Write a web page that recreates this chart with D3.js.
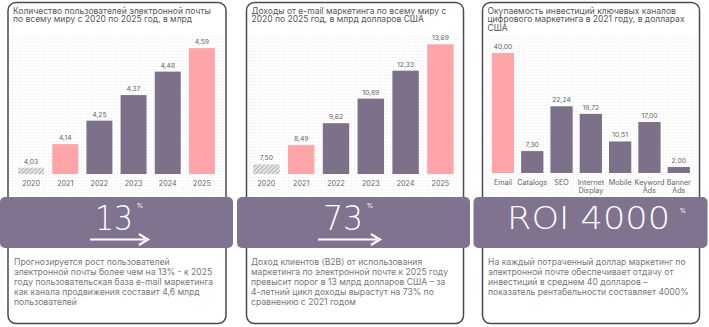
<!DOCTYPE html>
<html><head><meta charset="utf-8">
<script src="https://cdn.jsdelivr.net/npm/d3@7"></script>
<style>
html,body{margin:0;padding:0;background:#fff;}
svg{display:block;font-family:Inter,"Open Sans",sans-serif;}
</style></head>
<body><svg id="c" width="709" height="327"></svg>
<script>
// ---- data ----
const years = ["2020","2021","2022","2023","2024","2025"];
const users = [4.03, 4.14, 4.25, 4.37, 4.48, 4.59];
const revenue = [7.50, 8.49, 9.62, 10.89, 12.33, 13.69];
const yearKinds = ["hatch","pink","dark","dark","dark","pink"];
const channels = ["Email","Catalogs","SEO","Internet Display","Mobile","Keyword Ads","Banner Ads"];
const roi = [40.00, 7.30, 22.24, 19.72, 10.51, 17.00, 2.00];
const channelKinds = ["pink","dark","dark","dark","dark","dark","dark"];
const titles = [
  ["Количество пользователей электронной почты","по всему миру с 2020 по 2025 год, в млрд"],
  ["Доходы от e-mail маркетинга по всему миру с","2020 по 2025 год, в млрд долларов США"],
  ["Окупаемость инвестиций ключевых каналов","цифрового маркетинга в 2021 году, в долларах","США"]
];
const bigNumbers = ["13","73","ROI 4000"];
const descriptions = [
  ["Прогнозируется рост пользователей","электронной почты более чем на 13% - к 2025","году пользовательская база e-mail маркетинга","как канала продвижения составит 4,6 млрд","пользователей"],
  ["Доход клиентов (B2B) от использования","маркетинга по электронной почте к 2025 году","превысит порог в 13 млрд долларов США – за","4-летний цикл доходы вырастут на 73% по","сравнению с 2021 годом"],
  ["На каждый потраченный доллар маркетинг по","электронной почте обеспечивает отдачу от","инвестиций в среднем 40 долларов –","показатель рентабельности составляет 4000%"]
];

// ---- styles ----
const PINK = "#ffa5a9", DARK = "#7c7189", BAND = "#7f7390", BORDER = "#4d4759";
const fmt = v => d3.format(".2f")(v).replace(".", ",");
const svg = d3.select("#c");

const defs = svg.append("defs");
const dots = defs.append("pattern").attr("id","dots").attr("width",3).attr("height",3)
  .attr("patternUnits","userSpaceOnUse");
dots.append("rect").attr("width",1).attr("height",1).attr("fill","#ececec");
const hatch = defs.append("pattern").attr("id","hatch").attr("width",3).attr("height",3)
  .attr("patternUnits","userSpaceOnUse").attr("patternTransform","rotate(45)");
hatch.append("rect").attr("width",3).attr("height",3).attr("fill","#e4e4e4");
hatch.append("line").attr("x1",0).attr("y1",0).attr("x2",0).attr("y2",3)
  .attr("stroke","#9a9a9a").attr("stroke-width",1.3);

// cards
const cards = [{x:8,w:218},{x:246.5,w:217},{x:482.5,w:217}];
cards.forEach(c => {
  svg.append("rect").attr("x",c.x).attr("y",2.5).attr("width",c.w).attr("height",321)
    .attr("rx",8).attr("fill","#fff").attr("stroke",BORDER).attr("stroke-width",1.5);
  svg.append("rect").attr("x",c.x+1).attr("y",34).attr("width",c.w-2).attr("height",163)
    .attr("fill","url(#dots)");
});

// titles
titles.forEach((lines,i) => {
  const t = svg.append("text").attr("font-size",8.5).attr("fill","#555");
  lines.forEach((l,j) => t.append("tspan").attr("x",cards[i].x+5).attr("y",13.5+8.8*j).text(l));
});

function fillOf(k){ return k==="pink"?PINK:(k==="dark"?DARK:"url(#hatch)"); }

function barPanel(cats, vals, kinds, xr, yDomain, yRange){
  const x = d3.scaleBand().domain(cats).range(xr).paddingInner(0.24).paddingOuter(0.12);
  const y = d3.scaleLinear().domain(yDomain).range(yRange);
  const g = svg.append("g");
  g.selectAll("rect.b").data(cats).join("rect").attr("class","b")
    .attr("x",d=>x(d)).attr("width",x.bandwidth())
    .attr("y",(d,i)=>y(vals[i])).attr("height",(d,i)=>y(yDomain[0])-y(vals[i]))
    .attr("fill",(d,i)=>fillOf(kinds[i]));
  g.selectAll("text.v").data(cats).join("text").attr("class","v")
    .attr("x",d=>x(d)+x.bandwidth()/2).attr("y",(d,i)=>y(vals[i])-4)
    .attr("text-anchor","middle").attr("font-size",6.8).attr("fill","#666")
    .text((d,i)=>fmt(vals[i]));
  const ax = g.append("g").attr("transform",`translate(0,${y(yDomain[0])})`)
    .call(d3.axisBottom(x).tickSize(0).tickPadding(0));
  ax.select(".domain").remove();
  ax.selectAll(".tick text").attr("font-size",7.2).attr("fill","#666")
    .attr("font-family","Inter,'Open Sans',sans-serif").attr("dy",0)
    .each(function(d){
      const el = d3.select(this); const words = d.split(" ");
      el.text(null);
      words.forEach((w,k)=> el.append("tspan").attr("x",0).attr("y",k===0?11.5:19.5).text(w));
    });
}
barPanel(years, users, yearKinds, [14,219], [4,4.6], [174,46]);
barPanel(years, revenue, yearKinds, [249,457.8], [7,14], [174,38.3]);
barPanel(channels, roi, channelKinds, [488.3,693.4], [0,40], [173,53]);

// bands
const bands = [{x:0,w:233},{x:237,w:233},{x:473.5,w:234}];
bands.forEach(b => svg.append("rect").attr("x",b.x).attr("y",197).attr("width",b.w).attr("height",51)
  .attr("rx",5).attr("fill",BAND));

// big numbers
const bigPos = [{x:114,y:230,w:38,pct:140,py:208},{x:343,y:230,w:40,pct:370,py:208},{x:588.5,y:229,w:163,pct:683,py:213}];
bigNumbers.forEach((s,i) => {
  svg.append("text").attr("x",bigPos[i].x).attr("y",bigPos[i].y).attr("text-anchor","middle")
    .attr("font-family","'DejaVu Sans',sans-serif").attr("font-weight",200)
    .attr("font-size",i===2?32:34).attr("fill","#fff")
    .attr("textLength",bigPos[i].w).attr("lengthAdjust","spacingAndGlyphs").text(s);
  svg.append("text").attr("x",bigPos[i].pct).attr("y",bigPos[i].py).attr("text-anchor","middle")
    .attr("font-size",6.5).attr("fill","#fff").text("%");
});
// arrows
const arrows = [{x1:90,x2:148},{x1:318,x2:380}];
arrows.forEach(a => {
  svg.append("line").attr("x1",a.x1).attr("x2",a.x2-3).attr("y1",239.5).attr("y2",239.5)
    .attr("stroke","#fff").attr("stroke-width",2.2);
  svg.append("path").attr("d",`M${a.x2-9},234 L${a.x2},239.5 L${a.x2-9},245`)
    .attr("fill","none").attr("stroke","#fff").attr("stroke-width",2.2);
});

// descriptions
const descX = [14, 251, 488];
descriptions.forEach((lines,i) => {
  const t = svg.append("text").attr("font-size",8.6).attr("fill","#777");
  lines.forEach((l,j) => t.append("tspan").attr("x",descX[i]).attr("y",265+10*j).text(l));
});
</script></body></html>
